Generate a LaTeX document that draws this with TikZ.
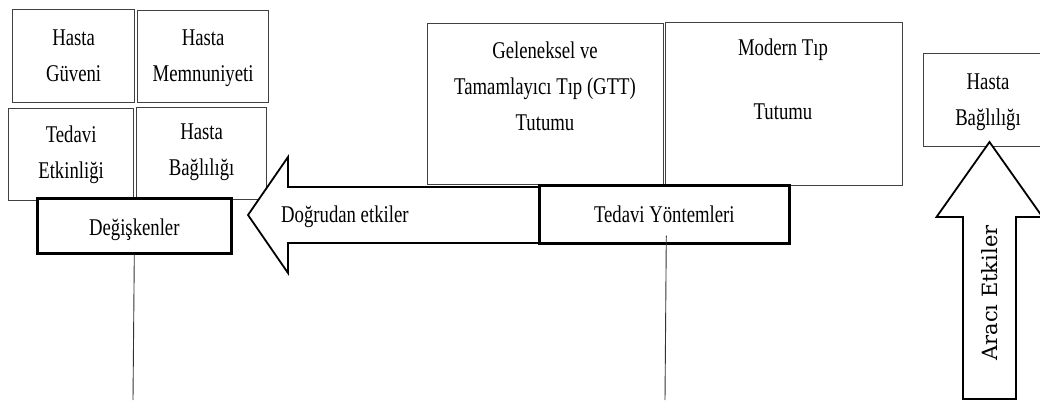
\documentclass[tikz,border=0pt]{standalone}
\usepackage{fontspec}
\setmainfont{Liberation Serif}
\newfontfamily\arfont{DejaVu Serif}
\usepackage{graphicx}
\newcommand\sqtext[1]{\scalebox{0.78}[1]{\begin{tabular}{@{}c@{}}#1\end{tabular}}}
\begin{document}
\begin{tikzpicture}[x=1pt,y=-1pt,
  thinbox/.style={draw=black!75, line width=1.2pt, fill=white, inner sep=0pt, anchor=north west},
  thickbox/.style={draw=black, line width=2.6pt, fill=white, inner sep=0pt, anchor=north west},
  txt/.style={font=\fontsize{24}{36}\selectfont, inner sep=0pt},
  arrowshape/.style={draw=black, line width=1.8pt, fill=white, line join=miter},
  conn/.style={draw=black!80, line width=0.9pt}]
\useasboundingbox (0,0) rectangle (1040,400);

% small variable boxes
\node[thinbox, minimum width=122pt, minimum height=93pt] (hg) at (12,9) {};
\node[thinbox, minimum width=131pt, minimum height=92pt] (hm) at (137,10) {};
\node[thinbox, minimum width=125pt, minimum height=92pt] (te) at (8,108) {};
\node[thinbox, minimum width=130pt, minimum height=92pt] (hb) at (136,107) {};
\node[txt] at (hg) {\sqtext{Hasta\\Güveni}};
\node[txt] at (hm) {\sqtext{Hasta\\Memnuniyeti}};
\node[txt] at ([yshift=1pt]te.center) {\sqtext{Tedavi\\Etkinliği}};
\node[txt] at ([yshift=3pt]hb.center) {\sqtext{Hasta\\Bağlılığı}};

% treatment attitude boxes
\node[thinbox, minimum width=236pt, minimum height=161pt] (gtt) at (427,23) {};
\node[thinbox, minimum width=237pt, minimum height=163pt] (mod) at (665,22) {};
\node[txt] (gtttxt) at (545,87) {\sqtext{Geleneksel ve\\Tamamlayıcı Tıp (GTT)\\Tutumu}};
\node[txt] (modtxt) at (783,80) {\sqtext{Modern Tıp\\[28pt]Tutumu}};

% right box
\node[thinbox, minimum width=124pt, minimum height=93pt] (hbr) at (923,53) {};
\node[txt] (hbrtxt) at (988,100) {\sqtext{Hasta\\Bağlılığı}};

% direct effects arrow
\draw[arrowshape] (248,215) -- (288,157) -- (288,187) -- (540,187) -- (540,243) -- (288,243) -- (288,273) -- cycle;
\node[txt, anchor=west] (direct) at (281,215) {\sqtext{Doğrudan etkiler}};

% mediating effects arrow
\draw[arrowshape] (989.5,142) -- (1042.5,217) -- (1016,217) -- (1016,399) -- (963,399) -- (963,217) -- (936.5,217) -- cycle;
\node[font=\arfont\fontsize{21}{25}\selectfont, rotate=90, inner sep=0pt] (arac) at (990,293) {Aracı Etkiler};

% main boxes
\node[thickbox, minimum width=194pt, minimum height=55pt] (deg) at (36,197) {};
\node[txt] at ([yshift=-2pt]deg.center) {\sqtext{Değişkenler}};
\node[thickbox, minimum width=250pt, minimum height=58pt] (ted) at (538,184) {};
\node[txt] at ([yshift=-1pt]ted.center) {\sqtext{Tedavi Yöntemleri}};

% vertical lines
\coordinate (lb) at (133,400);
\coordinate (rb) at (665,400);
\draw[conn] (deg.south) -- (lb);
\draw[conn] ([xshift=2pt,yshift=9pt]ted.south) -- (rb);
\end{tikzpicture}
\end{document}
